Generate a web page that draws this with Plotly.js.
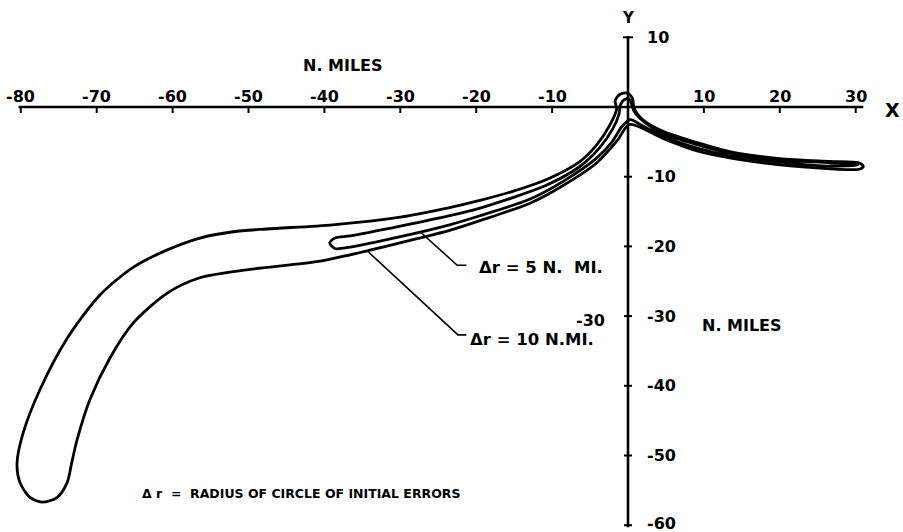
<!DOCTYPE html>
<html>
<head>
<meta charset="utf-8">
<script src="https://cdn.plot.ly/plotly-3.0.1.min.js"></script>
<style>html,body{margin:0;padding:0;background:#fff;}#chart{width:903px;height:532px;}</style>
</head>
<body>
<div id="chart"></div>
<script>
// ---- data (N. miles) ----
const xTicks = [-80, -70, -60, -50, -40, -30, -20, -10, 10, 20, 30];
const xTickLabels = ["-80", "-70", "-60", "-50", "-40", "-30", "-20", "-10", "10", "20", "30"];
const yTicks = [10, -10, -20, -30, -40, -50, -60];
const yTickLabels = ["10", "-10", "-20", "-30", "-40", "-50", "-60"];

// contour for Δr = 10 N. MI.
const dr10X = [31.0, 30.4, 26.6, 20.0, 13.4, 9.1, 4.6, 1.8, 0.8,
  0.6, -0.1, -1.1, -1.7, -1.5,
  -2.4, -4.1, -6.3, -10.7, -15.2, -19.5, -23.8, -30.0, -38.9, -47.6, -52.0, -56.4, -60.7, -65.2, -69.6, -73.9, -77.5, -79.7, -80.5,
  -80.1, -78.8, -77.2, -75.2, -73.9, -73.3, -72.6, -70.9, -68.2, -65.2, -60.7, -56.4, -49.8, -41.0, -36.6, -32.3, -27.8, -23.5, -19.5, -12.9, -8.6, -4.1, -1.4, 0.2,
  4.6, 9.1, 13.4, 17.8, 24.4, 30.6, 31.0];
const dr10Y = [-8.5, -8.0, -7.8, -7.4, -6.4, -5.1, -3.5, -1.7, -0.2,
  1.2, 2.0, 1.8, 0.9, -0.3,
  -2.6, -5.4, -7.8, -10.4, -12.1, -13.4, -14.5, -15.8, -16.9, -17.5, -17.9, -18.8, -20.5, -23.0, -27.0, -33.2, -40.6, -46.8, -51.1,
  -53.9, -56.0, -56.7, -56.0, -53.9, -51.1, -47.8, -42.0, -35.9, -31.0, -26.7, -24.5, -23.3, -22.2, -21.2, -20.1, -18.9, -17.7, -16.3, -13.8, -11.3, -8.0, -4.8, -2.5,
  -4.5, -6.3, -7.3, -8.0, -8.7, -8.9, -8.5];

// contour for Δr = 5 N. MI.
const dr5X = [-39.3, -38.6, -36.6, -30.0, -23.5, -19.5, -15.2, -10.7, -6.3, -3.7, -2.0, -1.2,
  -1.0, -0.4, 0.2, 0.5, 0.8,
  2.2, 4.6, 9.1, 13.4, 20.0, 26.6, 30.3,
  26.6, 20.0, 13.4, 9.1, 4.6, 1.6, 0.3,
  -0.8, -2.1, -4.1, -8.6, -12.9, -19.5, -23.5, -30.0, -36.6, -38.6, -39.3];
const dr5Y = [-19.5, -18.8, -18.5, -17.1, -15.6, -14.5, -13.0, -11.2, -8.5, -5.8, -3.1, -1.1,
  0.3, 1.1, 1.1, 0.3, -0.6,
  -2.2, -3.8, -5.4, -6.6, -7.6, -8.0, -8.3,
  -8.5, -7.9, -7.0, -5.9, -4.2, -2.5, -1.8,
  -2.8, -5.0, -7.3, -10.7, -13.2, -15.6, -16.9, -18.6, -20.1, -20.3, -19.5];

// leader lines of the labels
const leader5X = [-27.4, -22.5, -21.3];
const leader5Y = [-17.9, -22.7, -22.7];
const leader10X = [-34.3, -22.4, -21.3];
const leader10Y = [-20.7, -32.7, -32.7];

// axis extents
const xAxisX = [-80.3, 31.0];
const yAxisY = [10.2, -60.3];

// ---- layout geometry (pixels) ----
const W = 903, H = 532;
const M = {l: 4, r: 4, t: 4, b: 2};
const originPx = {x: 628, y: 107};
const pxPerX = 7.59, pxPerY = 6.97;
const xRange = [(M.l - originPx.x) / pxPerX, (W - M.r - originPx.x) / pxPerX];
const yRange = [(originPx.y - (H - M.b)) / pxPerY, (originPx.y - M.t) / pxPerY];

const FONT = "DejaVu Sans, Open Sans, sans-serif";
const lineStyle = {color: "#000", width: 2.8};

const traces = [
  {x: xAxisX, y: [0, 0], mode: "lines", line: {color: "#000", width: 2.6}},
  {x: [0, 0], y: yAxisY, mode: "lines", line: {color: "#000", width: 2.6}},
  {x: dr10X, y: dr10Y, mode: "lines", line: Object.assign({shape: "spline", smoothing: 0.8}, lineStyle)},
  {x: dr5X, y: dr5Y, mode: "lines", line: Object.assign({shape: "spline", smoothing: 0.8}, lineStyle)},
  {x: leader5X, y: leader5Y, mode: "lines", line: {color: "#000", width: 1.6}},
  {x: leader10X, y: leader10Y, mode: "lines", line: {color: "#000", width: 1.6}}
];

const shapes = [];
xTicks.forEach(v => shapes.push({type: "line", xref: "x", yref: "y", ysizemode: "pixel", yanchor: 0,
  x0: v, x1: v, y0: -6, y1: 1, line: {color: "#000", width: 2}}));
yTicks.forEach(v => shapes.push({type: "line", xref: "x", yref: "y", xsizemode: "pixel", xanchor: 0,
  x0: v === 10 ? -5 : -4, x1: v === 10 ? 5 : 4, y0: v, y1: v, line: {color: "#000", width: 2}}));

const annotations = [];
function txt(text, x, y, size, xanchor, yanchor, extra) {
  annotations.push(Object.assign({text: text, x: x, y: y, xref: "x", yref: "y", showarrow: false,
    xanchor: xanchor || "center", yanchor: yanchor || "middle",
    font: {family: FONT, size: size, color: "#000", weight: 700}}, extra || {}));
}
xTicks.forEach((v, i) => txt(xTickLabels[i], v, 0, 16, "center", "middle", {yshift: 11}));
yTicks.forEach((v, i) => txt(yTickLabels[i], 0, v, 16, "left", "middle", {xshift: 17, yshift: v === -60 ? 2 : 0}));
txt("N. MILES", -37.5, 5.9, 16);
txt("Y", 0, 12.8, 15);
txt("X", 34.9, -0.5, 19);
txt("N. MILES", 9.5, -31.3, 16, "left");
txt("-30", -2.8, -30.6, 16, "right");
txt("Δr = 5 N.  MI.", -19.9, -23.0, 16.5, "left");
txt("Δr = 10 N.MI.", -21.1, -33.4, 16.5, "left");
txt("Δ r  =  RADIUS OF CIRCLE OF INITIAL ERRORS", -64.3, -55.4, 12.5, "left");

const layout = {
  width: W, height: H,
  margin: M,
  paper_bgcolor: "#fff", plot_bgcolor: "#fff",
  showlegend: false,
  hovermode: false,
  xaxis: {range: xRange, visible: false, fixedrange: true},
  yaxis: {range: yRange, visible: false, fixedrange: true},
  shapes: shapes,
  annotations: annotations
};

Plotly.newPlot("chart", traces, layout, {staticPlot: true, displayModeBar: false});
</script>
</body>
</html>
